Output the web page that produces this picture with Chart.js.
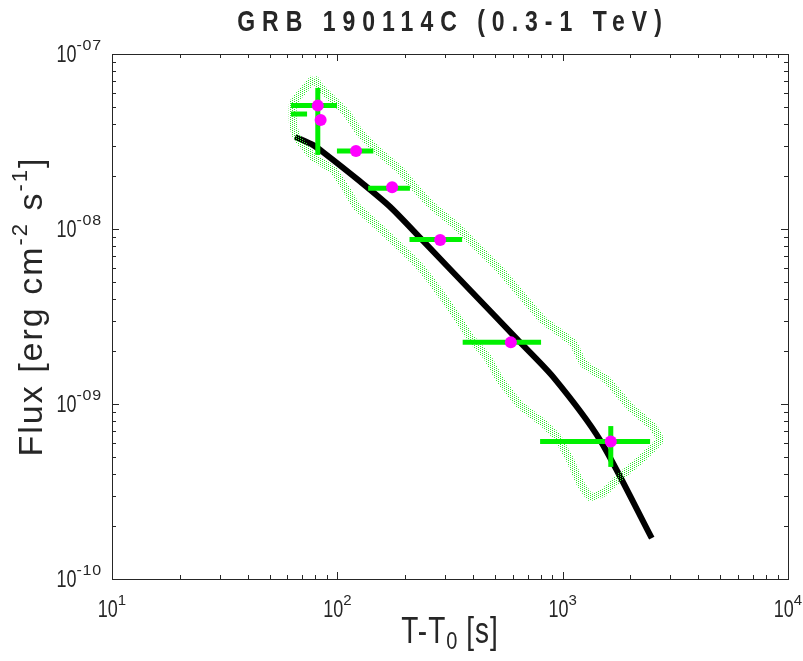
<!DOCTYPE html>
<html>
<head>
<meta charset="utf-8">
<script src="https://cdn.jsdelivr.net/npm/chart.js@4.4.1/dist/chart.umd.min.js"></script>
<style>
  html, body { margin: 0; padding: 0; background: #fff; }
  #wrap { width: 803px; height: 661px; }
</style>
</head>
<body>
<div id="wrap"><canvas id="chart" width="803" height="661"></canvas></div>
<script>
// flux points (magenta), T-T0 in s, flux in erg cm^-2 s^-1
const pointTime = [81.9, 84.3, 121, 175, 286, 589, 1635];
const pointFlux = [5.07e-8, 4.2e-8, 2.79e-8, 1.73e-8, 8.65e-9, 2.25e-9, 6.1e-10];

// horizontal error bars (time bins)
const binStart = [62.3, 62.3, 99.6, 137, 209, 360, 794];
const binEnd   = [99.7, 73.4, 144.5, 210, 358, 802, 2443];
const binFlux  = [5.07e-8, 4.54e-8, 2.79e-8, 1.71e-8, 8.7e-9, 2.25e-9, 6.1e-10];

// vertical error bars
const errTime = [81.9, 1635];
const errLow  = [2.65e-8, 4.37e-10];
const errHigh = [6.4e-8, 7.48e-10];

// model curve (black)
const modelTime = [64.9, 78, 86.4, 126.1, 171.3, 240.2, 388, 627.5, 907, 1466, 2486];
const modelFlux = [3.36e-8, 3.02e-8, 2.75e-8, 1.87e-8, 1.34e-8, 8.55e-9, 4.48e-9, 2.35e-9, 1.43e-9, 6.22e-10, 1.71e-10];

// outline of the green contour band
const bandTime = [78.8, 83.8, 110, 126, 155, 190, 226, 266, 340, 417, 528, 667, 819, 1112, 1232, 1574, 1992, 2519, 2706,
                  2206, 1798, 1511, 1323, 1195, 1079, 945, 819, 647, 528, 462, 388, 340, 286, 233, 196, 155, 122, 110, 96, 78, 66, 63.6, 63.6, 78.8];
const bandFlux = [7.29e-8, 6.48e-8, 4.6e-8, 3.54e-8, 2.72e-8, 2.17e-8, 1.67e-8, 1.34e-8, 1.03e-8, 7.89e-9, 5.83e-9, 4.09e-9, 3.02e-9, 2.23e-9, 1.71e-9, 1.37e-9, 9.61e-10, 7.39e-10, 6.23e-10,
                  4.79e-10, 3.83e-10, 3.1e-10, 2.94e-10, 3.54e-10, 4.79e-10, 6.48e-10, 7.78e-10, 9.87e-10, 1.37e-9, 1.86e-9, 2.41e-9, 3.14e-9, 4.31e-9, 6.07e-9, 7.59e-9, 1.01e-8, 1.34e-8, 1.67e-8, 2.17e-8, 2.58e-8, 3.36e-8, 3.93e-8, 5.25e-8, 7.29e-8];

// axis ticks
const xMajor = [10, 100, 1000, 10000];
const xTickExp = ['1', '2', '3', '4'];
const yMajor = [1e-10, 1e-9, 1e-8, 1e-7];
const yTickExp = ['-10', '-09', '-08', '-07'];

const textColor = '#262626';
const FONT = '"Liberation Sans", Arial, Helvetica, sans-serif';

function toXY(xs, ys) {
    return xs.map((x, i) => ({ x: x, y: ys[i] }));
}

// dotted fill used for the contour band
function dotPattern() {
    const c = document.createElement('canvas');
    c.width = 4; c.height = 2;
    const g = c.getContext('2d');
    g.fillStyle = '#2ee82e';
    g.fillRect(0, 0, 1, 1);
    g.fillRect(2, 1, 1, 1);
    return g.createPattern(c, 'repeat');
}

// draws a row of text pieces (for super/subscripts)
function drawParts(ctx, parts, x, y, align) {
    ctx.save();
    ctx.textBaseline = 'middle';
    let total = 0;
    parts.forEach(p => {
        ctx.font = (p.bold ? 'bold ' : '') + p.size + 'px ' + FONT;
        ctx.letterSpacing = (p.ls || 0) + 'px';
        p.w = ctx.measureText(p.text).width;
        total += p.w;
    });
    let cx = align === 'center' ? x - total / 2 : (align === 'right' ? x - total : x);
    parts.forEach(p => {
        ctx.save();
        ctx.font = (p.bold ? 'bold ' : '') + p.size + 'px ' + FONT;
        ctx.letterSpacing = (p.ls || 0) + 'px';
        ctx.fillStyle = textColor;
        ctx.translate(cx, y + (p.dy || 0));
        ctx.scale(1, p.sy || 1);
        ctx.textAlign = 'left';
        ctx.fillText(p.text, 0, 0);
        ctx.restore();
        cx += p.w;
    });
    ctx.restore();
}

const axesPlugin = {
    id: 'matlabAxes',
    afterDatasetsDraw(chart) {
        const ctx = chart.ctx;
        const xs = chart.scales.x, ys = chart.scales.y;
        const a = chart.chartArea;
        ctx.save();
        ctx.strokeStyle = textColor;
        ctx.lineWidth = 1;
        ctx.strokeRect(a.left + 0.5, a.top + 0.5, a.right - a.left, a.bottom - a.top);

        ctx.beginPath();
        // x ticks, bottom and top, inward
        for (let k = 0; k < xMajor.length; k++) {
            for (let m = 1; m <= 9; m++) {
                const v = xMajor[k] * m;
                if (v > xMajor[xMajor.length - 1]) break;
                const px = Math.round(xs.getPixelForValue(v)) + 0.5;
                const len = m === 1 ? 7 : 4;
                ctx.moveTo(px, a.bottom); ctx.lineTo(px, a.bottom - len);
                ctx.moveTo(px, a.top); ctx.lineTo(px, a.top + len);
            }
        }
        for (let k = 0; k < yMajor.length; k++) {
            for (let m = 1; m <= 9; m++) {
                const v = yMajor[k] * m;
                if (v > yMajor[yMajor.length - 1] * 1.0001) break;
                const py = Math.round(ys.getPixelForValue(v)) + 0.5;
                const len = m === 1 ? 7 : 4;
                ctx.moveTo(a.left, py); ctx.lineTo(a.left + len, py);
                ctx.moveTo(a.right, py); ctx.lineTo(a.right - len, py);
            }
        }
        ctx.stroke();
        ctx.restore();

        // tick labels
        xMajor.forEach((v, i) => {
            const px = xs.getPixelForValue(v);
            drawParts(ctx, [
                { text: '10', size: 18, sy: 1.28 },
                { text: xTickExp[i], size: 15, sy: 1.0, dy: -10 }
            ], px, a.bottom + 32, 'center');
        });
        yMajor.forEach((v, i) => {
            const py = ys.getPixelForValue(v);
            drawParts(ctx, [
                { text: '10', size: 18, sy: 1.28 },
                { text: yTickExp[i], size: 16, sy: 0.95, dy: -10, ls: 0.8 }
            ], a.left - 10, py + 2, 'right');
        });

        // title
        drawParts(ctx, [{ text: 'GRB 190114C (0.3-1 TeV)', size: 23, bold: true, sy: 1.25, ls: 7 }], (a.left + a.right) / 2 + 3, 23, 'center');

        // x axis title
        drawParts(ctx, [
            { text: 'T-T', size: 28, sy: 1.3, ls: 1 },
            { text: '0', size: 20, sy: 1.2, dy: 9 },
            { text: ' [s]', size: 28, sy: 1.3, ls: 1 }
        ], (a.left + a.right) / 2, 633, 'center');

        // y axis title, rotated
        ctx.save();
        ctx.translate(33, (a.top + a.bottom) / 2 - 10);
        ctx.rotate(-Math.PI / 2);
        drawParts(ctx, [
            { text: 'Flux [erg cm', size: 34, ls: 2 },
            { text: '-2', size: 22, dy: -12, ls: 2 },
            { text: ' s', size: 34, ls: 2 },
            { text: '-1', size: 22, dy: -12, ls: 2 },
            { text: ']', size: 34, ls: 2 }
        ], 0, 0, 'center');
        ctx.restore();
    }
};

const datasets = [];

datasets.push({
    label: 'points',
    data: toXY(pointTime, pointFlux),
    showLine: false,
    pointRadius: 6,
    pointBackgroundColor: '#ff00ff',
    pointBorderWidth: 0,
    order: 0
});

binStart.forEach((t0, i) => {
    datasets.push({
        label: 'bin' + i,
        data: [{ x: t0, y: binFlux[i] }, { x: binEnd[i], y: binFlux[i] }],
        showLine: true,
        borderColor: '#00f000',
        borderWidth: 5,
        pointRadius: 0,
        order: 1
    });
});

errTime.forEach((t, i) => {
    datasets.push({
        label: 'err' + i,
        data: [{ x: t, y: errLow[i] }, { x: t, y: errHigh[i] }],
        showLine: true,
        borderColor: '#00f000',
        borderWidth: 5,
        pointRadius: 0,
        order: 1
    });
});

datasets.push({
    label: 'band',
    data: toXY(bandTime, bandFlux),
    showLine: true,
    borderColor: dotPattern(),
    borderWidth: 8,
    borderJoinStyle: 'round',
    pointRadius: 0,
    tension: 0.1,
    order: 2
});

datasets.push({
    label: 'model',
    data: toXY(modelTime, modelFlux),
    showLine: true,
    borderColor: '#000000',
    borderWidth: 6,
    pointRadius: 0,
    tension: 0.25,
    order: 3
});

new Chart(document.getElementById('chart'), {
    type: 'scatter',
    data: { datasets: datasets },
    options: {
        responsive: false,
        animation: false,
        devicePixelRatio: 1,
        layout: { padding: { left: 112, right: 15, top: 54, bottom: 82 } },
        plugins: { legend: { display: false }, tooltip: { enabled: false }, title: { display: false } },
        scales: {
            x: { type: 'logarithmic', min: 10, max: 10000, display: false },
            y: { type: 'logarithmic', min: 1e-10, max: 1e-7, display: false }
        }
    },
    plugins: [axesPlugin]
});
</script>
</body>
</html>
